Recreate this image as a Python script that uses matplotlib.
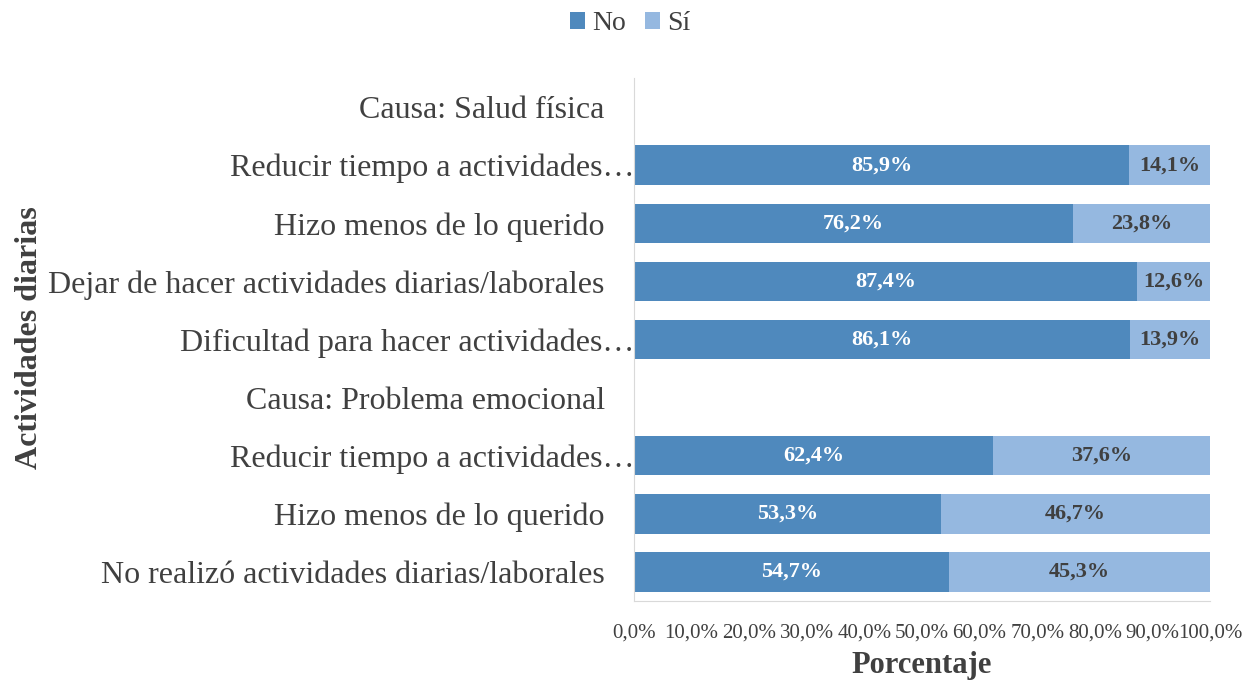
import matplotlib
matplotlib.use("Agg")
import matplotlib.pyplot as plt
import matplotlib.transforms as mtransforms
import numpy as np

plt.rcParams['font.family'] = ['Liberation Serif', 'DejaVu Serif']

categories = [
    "Causa: Salud física",
    "Reducir tiempo a actividades…",
    "Hizo menos de lo querido",
    "Dejar de hacer actividades diarias/laborales",
    "Dificultad para hacer actividades…",
    "Causa: Problema emocional",
    "Reducir tiempo a actividades…",
    "Hizo menos de lo querido",
    "No realizó actividades diarias/laborales",
]
no_vals = [np.nan, 85.9, 76.2, 87.4, 86.1, np.nan, 62.4, 53.3, 54.7]
si_vals = [np.nan, 14.1, 23.8, 12.6, 13.9, np.nan, 37.6, 46.7, 45.3]
series_names = ["No", "Sí"]
xticks = [0, 10, 20, 30, 40, 50, 60, 70, 80, 90, 100]

c_no = "#4F89BD"
c_si = "#95B8E0"
txt = "#404040"

fig = plt.figure(figsize=(12.47, 6.81), dpi=100)
ax = fig.add_axes([634/1247, 1-601/681, (1210-634)/1247, (601-78)/681])

y = np.arange(len(categories))
no = np.array(no_vals)
si = np.array(si_vals)
h = 0.68
b1 = ax.barh(y, np.nan_to_num(no), height=h, color=c_no, label=series_names[0])
b2 = ax.barh(y, np.nan_to_num(si), left=np.nan_to_num(no), height=h, color=c_si, label=series_names[1])

def fmt(v):
    return f"{v:.1f}%".replace(".", ",")

for i in range(len(categories)):
    if not np.isnan(no[i]):
        ax.text(no[i] / 2, y[i], fmt(no[i]), ha='center', va='center',
                color='white', fontsize=16, fontweight='bold')
        ax.text(no[i] + si[i] / 2, y[i], fmt(si[i]), ha='center', va='center',
                color=txt, fontsize=16, fontweight='bold')

ax.set_ylim(len(categories) - 0.5, -0.5)
ax.set_xlim(0, 100)
ax.set_yticks(y)
ax.set_yticklabels(categories, fontsize=23, color=txt)
ax.set_xticks(xticks)
ax.set_xticklabels([fmt(v) for v in xticks], fontsize=15, color=txt)
ax.tick_params(axis='both', length=0)
ax.tick_params(axis='y', pad=21)
ax.tick_params(axis='x', pad=16)

# truncated labels (with ellipsis) extend up to the axis line
for lbl in ax.get_yticklabels():
    if lbl.get_text().endswith("…"):
        lbl.set_transform(lbl.get_transform() +
                          mtransforms.ScaledTranslation(30/100, 0, fig.dpi_scale_trans))

for s in ['top', 'right']:
    ax.spines[s].set_visible(False)
ax.spines['left'].set_color('#D9D9D9')
ax.spines['bottom'].set_color('#D9D9D9')

ax.set_xlabel("Porcentaje", fontsize=22, fontweight='bold', color=txt, labelpad=6)
fig.text(30/1247, 1-338/681, "Actividades diarias", rotation=90, ha='center', va='center',
         fontsize=23, fontweight='bold', color=txt)

fig.legend(handles=[b1, b2], labels=series_names, loc='center', bbox_to_anchor=(630/1247, 1-24/681),
           ncol=2, frameon=False, fontsize=20, handlelength=0.55, handleheight=0.55,
           handletextpad=0.25, columnspacing=0.7, labelcolor=txt)

fig.savefig("out.png", dpi=100)
